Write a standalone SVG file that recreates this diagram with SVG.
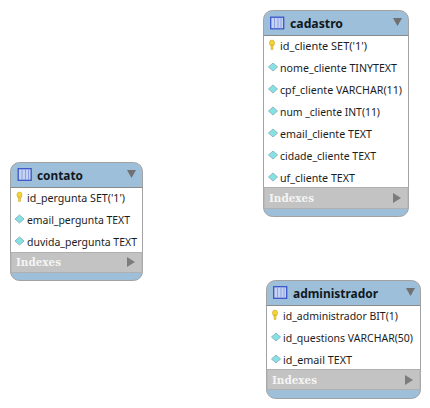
<svg xmlns="http://www.w3.org/2000/svg" width="430" height="408" viewBox="0 0 430 408">
<style>
text{font-family:"Noto Sans","Liberation Sans",sans-serif}
.outer{fill:#9dbfd9;stroke:#a2a2a2;stroke-width:1}
.body{fill:#fff}
.edge{stroke:#8a8a8a;stroke-width:1;fill:none}
.idx{fill:#c3c3c3;stroke:#b0b0b0;stroke-width:1}
.title{font-size:12.500px;font-weight:700;fill:#10181f}
.row{font-size:10.500px;fill:#1c1c1c}
.idxt{font-family:"DejaVu Serif",serif;font-size:11px;font-weight:700;fill:#f4f4f4}
.tri{fill:#707070}
.tri2{fill:#7c7c7c}
.dia{fill:#84e2e2;stroke:#8fb4c4;stroke-width:1}
.key{fill:#f4d33a;stroke:#c9a21c;stroke-width:.5}
.ic{fill:#c6d3f2;stroke:#3a55c8;stroke-width:1.300}
.icl{stroke:#8a9fe2;stroke-width:1}
</style>
<defs>
<g id="tic"><rect class="ic" x="0.700" y="0.700" width="13" height="11.600"/><path class="icl" d="M4.500 1.500V12M8 1.500V12M11 1.500V12"/></g>
<path id="d" class="dia" d="M0 -4L4.500 0L0 4L-4.500 0Z"/>
<g id="k"><ellipse class="key" cx="0" cy="-2" rx="2.600" ry="3"/><rect class="key" x="-1" y="0" width="2" height="4.500"/></g>
</defs>
<g id="connectors"/>
<g id="cadastro">
<rect class="outer" x="263.500" y="10.500" width="145" height="206" rx="9"/>
<rect class="body" x="264" y="35" width="144" height="152"/>
<rect class="idx" x="264" y="187.500" width="144" height="21"/>
<path class="edge" d="M263.500 35.500H408.500"/>
<use href="#tic" x="270" y="16.500"/>
<text class="title" x="290" y="28" textLength="53" lengthAdjust="spacingAndGlyphs">cadastro</text>
<path class="tri" d="M393 18H402L397.500 26Z"/>
<use href="#k" x="272" y="45"/><text class="row" x="280" y="50" textLength="87" lengthAdjust="spacingAndGlyphs">id_cliente SET('1')</text>
<use href="#d" x="273" y="67"/><text class="row" x="280" y="72" textLength="117" lengthAdjust="spacingAndGlyphs">nome_cliente TINYTEXT</text>
<use href="#d" x="273" y="89"/><text class="row" x="280" y="94" textLength="122" lengthAdjust="spacingAndGlyphs">cpf_cliente VARCHAR(11)</text>
<use href="#d" x="273" y="111"/><text class="row" x="280" y="116" textLength="100" lengthAdjust="spacingAndGlyphs">num _cliente INT(11)</text>
<use href="#d" x="273" y="133"/><text class="row" x="280" y="138" textLength="92" lengthAdjust="spacingAndGlyphs">email_cliente TEXT</text>
<use href="#d" x="273" y="155"/><text class="row" x="280" y="160" textLength="96" lengthAdjust="spacingAndGlyphs">cidade_cliente TEXT</text>
<use href="#d" x="273" y="177"/><text class="row" x="280" y="182" textLength="75" lengthAdjust="spacingAndGlyphs">uf_cliente TEXT</text>
<text class="idxt" x="269" y="202" textLength="45" lengthAdjust="spacingAndGlyphs">Indexes</text>
<path class="tri2" d="M393 193L401 198L393 203Z"/>
</g>
<g id="contato">
<rect class="outer" x="10.500" y="162.500" width="132" height="118" rx="9"/>
<rect class="body" x="11" y="187" width="131" height="65"/>
<rect class="idx" x="11" y="252.500" width="131" height="20"/>
<path class="edge" d="M10.500 187.500H142.500"/>
<use href="#tic" x="17.500" y="168"/>
<text class="title" x="37" y="180" textLength="46" lengthAdjust="spacingAndGlyphs">contato</text>
<path class="tri" d="M127 170H136L131.500 178Z"/>
<use href="#k" x="19.500" y="197"/><text class="row" x="27" y="202" textLength="98" lengthAdjust="spacingAndGlyphs">id_pergunta SET('1')</text>
<use href="#d" x="19.500" y="219"/><text class="row" x="27" y="224" textLength="103" lengthAdjust="spacingAndGlyphs">email_pergunta TEXT</text>
<use href="#d" x="19.500" y="241"/><text class="row" x="27" y="246" textLength="110" lengthAdjust="spacingAndGlyphs">duvida_pergunta TEXT</text>
<text class="idxt" x="16" y="266" textLength="45" lengthAdjust="spacingAndGlyphs">Indexes</text>
<path class="tri2" d="M127 257L135 262L127 267Z"/>
</g>
<g id="administrador">
<rect class="outer" x="266.500" y="280.500" width="154" height="118" rx="9"/>
<rect class="body" x="267" y="305" width="153" height="64"/>
<rect class="idx" x="267" y="369.500" width="153" height="20"/>
<path class="edge" d="M266.500 305.500H420.500"/>
<use href="#tic" x="273" y="286"/>
<text class="title" x="293" y="298" textLength="85" lengthAdjust="spacingAndGlyphs">administrador</text>
<path class="tri" d="M406 288H415L410.500 296Z"/>
<use href="#k" x="275" y="315"/><text class="row" x="283" y="320" textLength="115" lengthAdjust="spacingAndGlyphs">id_administrador BIT(1)</text>
<use href="#d" x="276" y="337"/><text class="row" x="283" y="342" textLength="130" lengthAdjust="spacingAndGlyphs">id_questions VARCHAR(50)</text>
<use href="#d" x="276" y="359"/><text class="row" x="283" y="364" textLength="69" lengthAdjust="spacingAndGlyphs">id_email TEXT</text>
<text class="idxt" x="272" y="384" textLength="45" lengthAdjust="spacingAndGlyphs">Indexes</text>
<path class="tri2" d="M405 375L413 380L405 385Z"/>
</g>
</svg>
